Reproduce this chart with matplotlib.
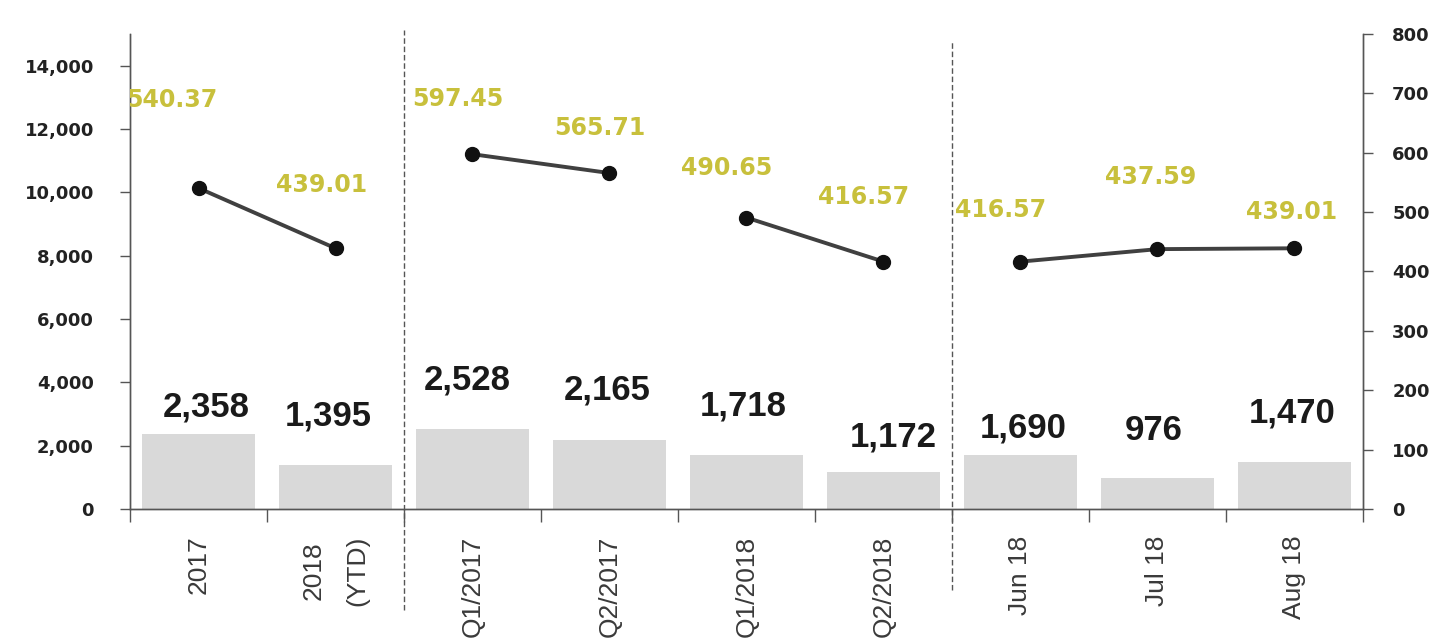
import matplotlib
matplotlib.use("Agg")

import matplotlib.pyplot as plt
import matplotlib.transforms as mtransforms
import numpy as np

# ---- data -------------------------------------------------------------
categories = [
    "2017", "2018\n(YTD)", "Q1/2017", "Q2/2017", "Q1/2018",
    "Q2/2018", "Jun 18", "Jul 18", "Aug 18",
]
volumes = [2358, 1395, 2528, 2165, 1718, 1172, 1690, 976, 1470]
prices = [540.37, 439.01, 597.45, 565.71, 490.65, 416.57, 416.57, 437.59, 439.01]
line_groups = [[0, 1], [2, 3], [4, 5], [6, 7, 8]]
separators = [1.5, 5.5]

# hand-placed label offsets in pixels (dx, dy), like the source chart
bar_label_offsets = [(8, 27), (-7, 49), (-5, 49), (-2, 50), (-3, 49),
                     (10, 35), (3, 27), (-4, 48), (-2, 49)]
price_label_offsets = [(-27, 88), (-14, 63), (-15, 55), (-10, 45), (-20, 50),
                       (-20, 65), (-20, 52), (-7, 72), (-3, 36)]

BAR_COLOR = "#d9d9d9"
LINE_COLOR = "#404040"
PRICE_COLOR = "#c8c03c"
PX = 0.72  # points per pixel at dpi 100

fig = plt.figure(figsize=(14.35, 6.4), dpi=100)
ax = fig.add_axes([0.0906, 0.2047, 0.8592, 0.7423])
ax2 = ax.twinx()

x = np.arange(len(categories))

# bars + labels
ax.bar(x, volumes, width=0.82, color=BAR_COLOR, zorder=1)
for xi, v, (dx, dy) in zip(x, volumes, bar_label_offsets):
    ax.annotate(f"{v:,}", (xi, v), xytext=(dx * PX, dy * PX),
                textcoords="offset points", ha="center", va="center",
                fontsize=25, fontweight="bold", color="#1a1a1a",
                family="Liberation Sans")

# price line segments
for grp in line_groups:
    ax2.plot(x[grp], [prices[i] for i in grp], color=LINE_COLOR, lw=2.8,
             marker="o", ms=10, mfc="#111111", mec="#111111", zorder=3)
for xi, p, (dx, dy) in zip(x, prices, price_label_offsets):
    ax2.annotate(f"{p:.2f}", (xi, p), xytext=(dx * PX, dy * PX),
                 textcoords="offset points", ha="center", va="center",
                 fontsize=17, fontweight="bold", color=PRICE_COLOR,
                 family="DejaVu Sans", clip_on=True)

# axes limits and ticks
ax.set_xlim(-0.5, len(categories) - 0.5)
ax.set_ylim(0, 15000)
ax2.set_ylim(0, 800)

ax.set_yticks(np.arange(0, 15000, 2000))
ax.set_yticklabels([f"{t:,}" for t in range(0, 15000, 2000)],
                   fontsize=13, fontweight="bold", color="#222222")
ax2.set_yticks(np.arange(0, 801, 100))
ax2.set_yticklabels([str(t) for t in range(0, 801, 100)],
                    fontsize=13, fontweight="bold", color="#222222")

ax.set_xticks(x)
ax.set_xticklabels(categories, rotation=90, va="top", ha="center",
                   fontsize=19, color="#3a3a3a", family="Liberation Sans",
                   linespacing=2.0)
ax.set_xticks(np.arange(-0.5, len(categories)), minor=True)
ax.tick_params(axis="x", which="major", length=0, pad=19)
ax.tick_params(axis="x", which="minor", length=9, width=1, color="#555555")
ax.tick_params(axis="y", length=7, width=1, color="#555555", pad=19)
ax2.tick_params(axis="y", length=7, width=1, color="#555555", pad=14)

for a in (ax, ax2):
    a.spines["top"].set_visible(False)
    for s in ("left", "right", "bottom"):
        a.spines[s].set_color("#555555")
        a.spines[s].set_linewidth(1)

# dashed group separators running into the label area
trans = mtransforms.blended_transform_factory(ax.transData, ax.transAxes)
for sx, (y0, y1) in zip(separators, [(-0.213, 1.008), (-0.17, 0.983)]):
    ax.plot([sx, sx], [y0, y1], transform=trans, color="#555555", lw=1,
            ls=(0, (4, 2)), clip_on=False, zorder=2)

fig.savefig("out.png", dpi=100)
